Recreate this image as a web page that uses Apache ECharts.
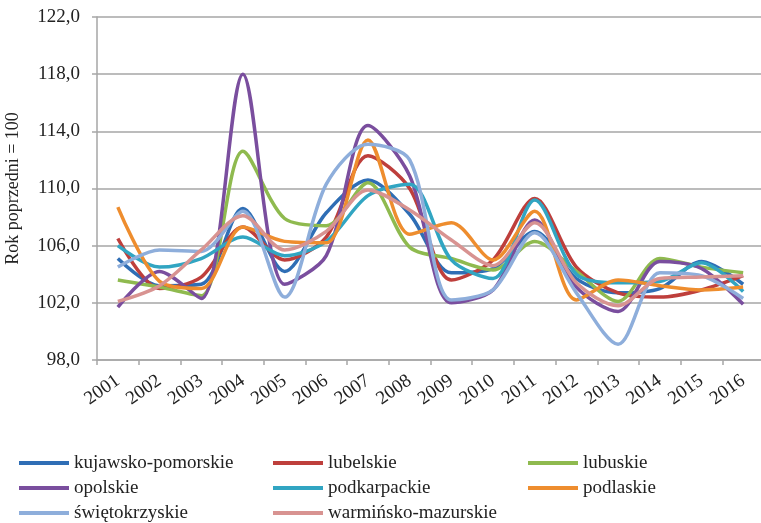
<!DOCTYPE html>
<html><head><meta charset="utf-8">
<script src="https://cdn.jsdelivr.net/npm/echarts@6/dist/echarts.min.js"></script>
<style>html,body{margin:0;padding:0;background:#fff}#c{width:761px;height:523px}</style>
</head><body><div id="c"></div>
<script>
const years = ['2001','2002','2003','2004','2005','2006','2007','2008','2009','2010','2011','2012','2013','2014','2015','2016'];
const seriesNames = ['kujawsko-pomorskie','lubelskie','lubuskie','opolskie','podkarpackie','podlaskie','świętokrzyskie','warmińsko-mazurskie'];
const kujawskoPomorskie = [105.1,103.2,103.3,108.6,104.2,108.3,110.6,108.2,104.1,104.4,107.0,103.7,102.7,103.0,104.9,103.3];
const lubelskie        = [106.5,103.0,103.8,107.3,105.0,106.6,112.3,110.0,103.6,105.0,109.3,104.5,102.7,102.4,102.9,103.9];
const lubuskie         = [103.6,103.1,102.5,112.6,107.9,107.4,110.4,105.9,105.1,104.3,106.3,104.2,102.1,105.1,104.5,104.1];
const opolskie         = [101.7,104.2,102.3,118.0,103.3,105.3,114.4,110.9,102.0,102.9,107.8,103.1,101.4,104.9,104.4,101.9];
const podkarpackie     = [106.0,104.5,105.1,106.6,105.3,106.3,109.5,110.3,105.0,103.7,109.2,104.0,103.4,103.5,104.8,102.8];
const podlaskie        = [108.7,103.5,103.0,107.3,106.3,106.2,113.4,106.8,107.6,105.0,108.4,102.2,103.6,103.2,102.9,103.1];
const swietokrzyskie   = [104.5,105.7,105.6,108.4,102.4,110.3,113.1,112.0,102.2,102.9,106.9,102.7,99.1,104.1,103.9,102.3];
const warminskoMazurskie = [102.1,103.2,105.7,108.1,105.7,107.0,109.9,108.5,106.4,104.6,107.6,103.4,101.8,103.7,103.8,103.9];
const yTicks = [98,102,106,110,114,118,122];
const yAxisName = 'Rok poprzedni = 100';

const values = [kujawskoPomorskie,lubelskie,lubuskie,opolskie,podkarpackie,podlaskie,swietokrzyskie,warminskoMazurskie];
const colors = ['#2F6EB5','#BE3F3C','#8FBA4F','#7A4E9E','#31A5C2','#EE8D2E','#8EAEDB','#D89391'];
const font = 'Liberation Serif';

const chart = echarts.init(document.getElementById('c'));
const legendCommon = {
  orient: 'vertical', icon: 'rect', itemWidth: 50, itemHeight: 4, itemGap: 5,
  height: 80,
  textStyle: {fontFamily: font, fontSize: 19, lineHeight: 20, color: '#222', padding: [0,0,0,0]},
  selectedMode: false
};
chart.setOption({
  animation: false,
  color: colors,
  grid: {left: 97, top: 17, right: -3, bottom: 163, containLabel: false, outerBoundsMode: 'none'},
  legend: [
    Object.assign({left: 14, top: 448, data: [seriesNames[0], seriesNames[3], seriesNames[6]]}, legendCommon),
    Object.assign({left: 268, top: 448, data: [seriesNames[1], seriesNames[4], seriesNames[7]]}, legendCommon),
    Object.assign({left: 523, top: 448, data: [seriesNames[2], seriesNames[5]]}, legendCommon)
  ],
  xAxis: {
    type: 'category', data: years, boundaryGap: true,
    axisLine: {lineStyle: {color: '#A6A6A6', width: 1.5}},
    axisTick: {show: true, length: 5, lineStyle: {color: '#A6A6A6', width: 1.5}},
    axisLabel: {rotate: 35, margin: 19, fontFamily: font, fontSize: 19, color: '#222', interval: 0}
  },
  yAxis: {
    type: 'value', min: yTicks[0], max: yTicks[yTicks.length-1], interval: 4,
    name: yAxisName, nameLocation: 'middle', nameGap: 75,
    nameTextStyle: {fontFamily: font, fontSize: 18, color: '#222'},
    axisLine: {show: true, lineStyle: {color: '#A6A6A6', width: 1.5}},
    axisTick: {show: true, length: 5, lineStyle: {color: '#A6A6A6', width: 1.5}},
    splitLine: {lineStyle: {color: '#A6A6A6', width: 1.5}},
    axisLabel: {margin: 17, fontFamily: font, fontSize: 19, color: '#222',
      formatter: v => v.toFixed(1).replace('.', ',')}
  },
  series: seriesNames.map((n, i) => ({
    name: n, type: 'line', data: values[i], smooth: 0.3, symbol: 'none',
    lineStyle: {width: 3.5, color: colors[i]}, itemStyle: {color: colors[i]}
  }))
});
</script></body></html>
